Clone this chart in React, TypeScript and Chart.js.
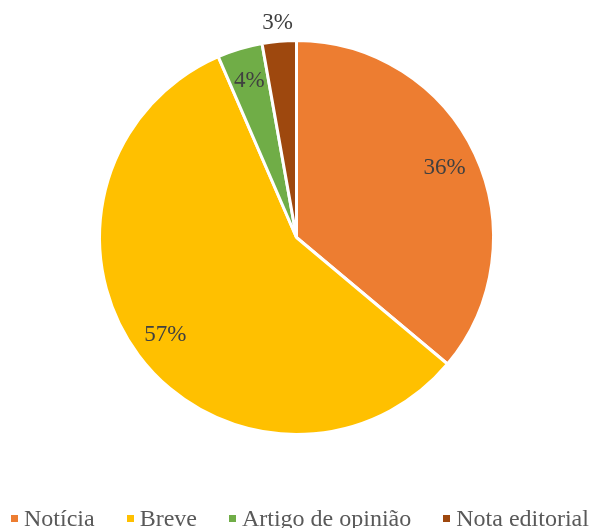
import React, { useEffect, useRef } from "react";
import { Chart, registerables } from "chart.js";

Chart.register(...registerables);

const categories = ["Notícia", "Breve", "Artigo de opinião", "Nota editorial"];
const values = [36.1, 57.4, 3.7, 2.8];
const colors = ["#ED7D31", "#FFC000", "#70AD47", "#9E480E"];

const FONT = '"Liberation Serif"';

const labelPlugin = {
  id: "sliceLabels",
  afterDatasetsDraw(chart: any) {
    const { ctx } = chart;
    const meta = chart.getDatasetMeta(0);
    const data = chart.data.datasets[0].data as number[];
    const total = data.reduce((a, b) => a + b, 0);
    ctx.save();
    ctx.font = `23px ${FONT}`;
    ctx.fillStyle = "#404040";
    ctx.textAlign = "center";
    ctx.textBaseline = "middle";
    meta.data.forEach((arc: any, i: number) => {
      const { x, y, startAngle, endAngle, outerRadius } = arc.getProps(
        ["x", "y", "startAngle", "endAngle", "outerRadius"],
        true
      );
      const pct = (data[i] / total) * 100;
      const mid = (startAngle + endAngle) / 2;
      const r = pct < 3.5 ? outerRadius + 18 : outerRadius * 0.83;
      const tx = x + Math.cos(mid) * r;
      const ty = y + Math.sin(mid) * r;
      ctx.fillText(`${Math.round(pct)}%`, tx, ty);
    });
    ctx.restore();
  },
};

export default function App() {
  const ref = useRef<HTMLCanvasElement | null>(null);

  useEffect(() => {
    const chart = new Chart(ref.current as HTMLCanvasElement, {
      type: "pie",
      data: {
        labels: categories,
        datasets: [
          {
            data: values,
            backgroundColor: colors,
            borderColor: "#ffffff",
            borderWidth: 3,
            hoverOffset: 0,
          },
        ],
      },
      options: {
        responsive: false,
        animation: false,
        font: { family: FONT },
        layout: { padding: { top: 39, left: 98, right: 98, bottom: 64 } },
        plugins: {
          legend: { display: false },
          tooltip: { enabled: false },
        },
      },
      plugins: [labelPlugin],
    });
    return () => chart.destroy();
  }, []);

  return (
    <div
      style={{
        position: "fixed",
        left: 0,
        top: 0,
        width: 593,
        height: 528,
        background: "#fff",
        fontFamily: FONT,
      }}
    >
      <canvas ref={ref} width={593} height={500} style={{ position: "absolute", left: 0, top: 0 }} />
      <div
        style={{
          position: "absolute",
          left: 11,
          top: 504,
          display: "flex",
          alignItems: "center",
          whiteSpace: "nowrap",
          fontFamily: FONT,
          fontSize: 24,
          lineHeight: "28px",
          color: "#595959",
        }}
      >
        {categories.map((c, i) => (
          <div key={c} style={{ display: "flex", alignItems: "center", marginRight: i < categories.length - 1 ? 32 : 0 }}>
            <span style={{ display: "inline-block", width: 7, height: 7, background: colors[i], marginRight: 6 }} />
            <span>{c}</span>
          </div>
        ))}
      </div>
    </div>
  );
}
